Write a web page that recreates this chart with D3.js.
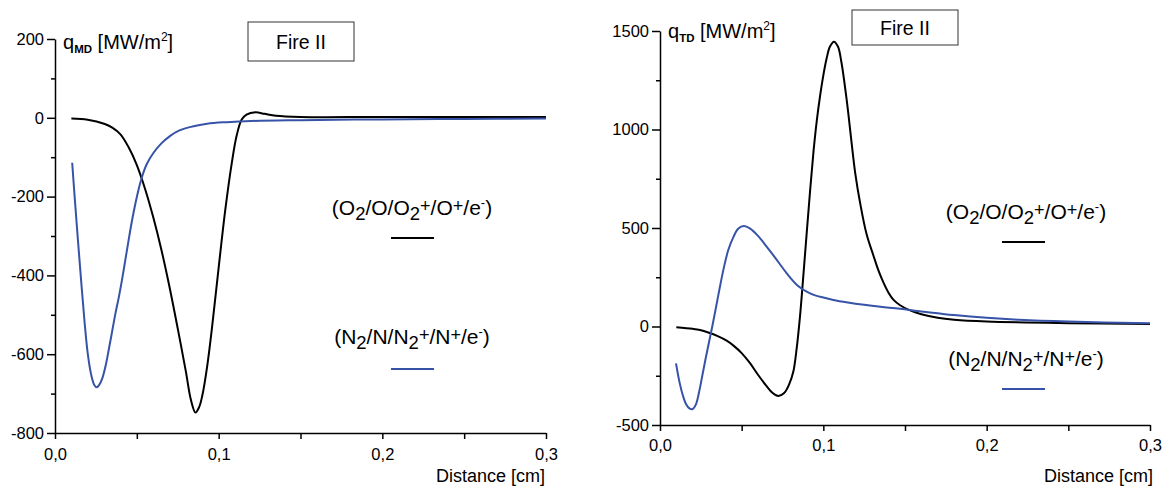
<!DOCTYPE html>
<html>
<head>
<meta charset="utf-8">
<script src="https://cdn.jsdelivr.net/npm/d3@7"></script>
<style>
  body { margin: 0; background: #fff; }
  svg { display: block; font-family: "Liberation Sans", Arial, sans-serif; }
</style>
</head>
<body>
<svg id="chart" width="1166" height="487"></svg>
<script>
// ---- data: [distance cm, heat flux MW/m2] ----
const distTicks = [0, 0.1, 0.2, 0.3];
const distMinor = [0.05, 0.15, 0.25];

const mdTicks = [-800, -600, -400, -200, 0, 200];
const mdMinor = [-700, -500, -300, -100, 100];
const tdTicks = [-500, 0, 500, 1000, 1500];
const tdMinor = [-250, 250, 750, 1250];

// q_MD, O2/O/O2+/O+/e- (black)
const mdOxygen = [
  [0.010, -2], [0.020, -5], [0.030, -15], [0.035, -25], [0.040, -42], [0.045, -75],
  [0.050, -120], [0.055, -180], [0.060, -252], [0.065, -335], [0.070, -430],
  [0.075, -535], [0.080, -645], [0.083, -715], [0.0858, -748], [0.088, -735],
  [0.090, -705], [0.093, -630], [0.096, -530], [0.100, -380], [0.104, -235],
  [0.108, -115], [0.111, -45], [0.114, -5], [0.117, 8], [0.1225, 14], [0.128, 10],
  [0.135, 5], [0.150, 2], [0.200, 2], [0.300, 2]
];
// q_MD, N2/N/N2+/N+/e- (blue)
const mdNitrogen = [
  [0.0105, -114], [0.012, -200], [0.014, -310], [0.016, -415], [0.018, -515],
  [0.020, -598], [0.022, -650], [0.024, -678], [0.0255, -684], [0.027, -678],
  [0.029, -660], [0.031, -628], [0.033, -585], [0.035, -540], [0.037, -495],
  [0.039, -455], [0.041, -410], [0.043, -360], [0.045, -310], [0.047, -262],
  [0.049, -220], [0.051, -183], [0.053, -152], [0.056, -118], [0.060, -90],
  [0.065, -65], [0.070, -47], [0.076, -32], [0.084, -22], [0.093, -15],
  [0.105, -11], [0.120, -8], [0.150, -6], [0.200, -4], [0.250, -3], [0.300, -2]
];
// q_TD, O2/O/O2+/O+/e- (black)
const tdOxygen = [
  [0.010, -4], [0.020, -12], [0.0245, -18], [0.030, -32], [0.035, -48], [0.0408, -72],
  [0.045, -97], [0.050, -135], [0.055, -185], [0.060, -245], [0.065, -300],
  [0.069, -338], [0.0725, -353], [0.076, -338], [0.079, -295], [0.0816, -230],
  [0.0837, -110], [0.0857, 50], [0.0875, 230], [0.0898, 473], [0.092, 700],
  [0.094, 890], [0.096, 1045], [0.098, 1170], [0.100, 1275], [0.102, 1360],
  [0.104, 1420], [0.1065, 1446], [0.109, 1420], [0.111, 1345], [0.1143, 1150],
  [0.117, 955], [0.1195, 780], [0.1225, 628], [0.1265, 468], [0.1306, 362],
  [0.1335, 290], [0.1367, 225], [0.140, 170], [0.143, 135], [0.147, 108],
  [0.152, 86], [0.160, 62], [0.170, 44], [0.180, 34], [0.200, 25], [0.250, 17],
  [0.300, 13]
];
// q_TD, N2/N/N2+/N+/e- (blue)
const tdNitrogen = [
  [0.0098, -187], [0.012, -285], [0.014, -350], [0.016, -395], [0.018, -416],
  [0.0198, -420], [0.022, -395], [0.024, -330], [0.026, -245], [0.028, -160],
  [0.030, -80], [0.032, 0], [0.034, 85], [0.0367, 202], [0.039, 295],
  [0.0418, 388], [0.045, 455], [0.048, 497], [0.0514, 510], [0.055, 498],
  [0.060, 460], [0.0653, 405], [0.070, 355], [0.0776, 270], [0.084, 210],
  [0.0898, 177], [0.095, 158], [0.100, 147], [0.1061, 135], [0.115, 122],
  [0.125, 110], [0.135, 100], [0.147, 90], [0.160, 76], [0.170, 67],
  [0.180, 58], [0.200, 44], [0.220, 34], [0.250, 25], [0.300, 16]
];

const oxygenLabel = [["(O", "n"], ["2", "sub"], ["/O/O", "n"], ["2", "sub"], ["+", "sup"],
                     ["/O", "n"], ["+", "sup"], ["/e", "n"], ["-", "supm"], [")", "n"]];
const nitrogenLabel = [["(N", "n"], ["2", "sub"], ["/N/N", "n"], ["2", "sub"], ["+", "sup"],
                       ["/N", "n"], ["+", "sup"], ["/e", "n"], ["-", "supm"], [")", "n"]];

const BLACK = "#000";
const BLUE = "#3653a8";

const svg = d3.select("#chart");

// text made of pieces with sub/superscripts, shifts done with dy
function richText(g, parts, x, y, anchor, size) {
  let t = g.append("text")
    .attr("x", x).attr("y", y)
    .attr("text-anchor", anchor)
    .attr("font-size", size);
  let shift = 0;
  parts.forEach(function(p) {
    let target = 0, fs = size;
    if (p[1] === "sub") { target = 4.5; fs = size * 0.88; }
    if (p[1] === "sup") { target = -3.5; fs = size * 0.86; }
    if (p[1] === "supm") { target = -8; fs = size * 0.62; }
    t.append("tspan")
      .attr("dy", target - shift)
      .attr("font-size", fs)
      .text(p[0]);
    shift = target;
  });
  return t;
}

function drawPanel(cfg) {
  let g = svg.append("g");
  let x = d3.scaleLinear().domain([0, 0.3]).range(cfg.xRange);
  let y = d3.scaleLinear().domain(cfg.yDomain).range(cfg.yRange);
  let x0 = cfg.xRange[0], yBase = cfg.yRange[0];

  // minor ticks
  g.append("g").attr("transform", `translate(${x0},0)`)
    .call(d3.axisLeft(y).tickValues(cfg.yMinor).tickSize(4).tickFormat(""))
    .call(a => a.select(".domain").remove());
  g.append("g").attr("transform", `translate(0,${yBase})`)
    .call(d3.axisBottom(x).tickValues(distMinor).tickSize(6).tickFormat(""))
    .call(a => a.select(".domain").remove());

  // major axes
  let ya = g.append("g").attr("transform", `translate(${x0},0)`)
    .call(d3.axisLeft(y).tickValues(cfg.yTicks).tickSize(8).tickSizeOuter(0)
      .tickPadding(3).tickFormat(d => String(d)));
  let xa = g.append("g").attr("transform", `translate(0,${yBase})`)
    .call(d3.axisBottom(x).tickValues(distTicks).tickSize(6).tickSizeOuter(0)
      .tickPadding(cfg.xPad).tickFormat(d => d.toFixed(1).replace(".", ",")));

  g.selectAll(".domain, .tick line").attr("stroke", "#000").attr("stroke-width", 1.5);
  [ya, xa].forEach(a => a.attr("font-family", null).attr("font-size", 16.5)
    .selectAll("text").attr("fill", "#000"));

  // curves
  let line = d3.line().x(d => x(d[0])).y(d => y(d[1])).curve(d3.curveCatmullRom.alpha(0.5));
  g.append("path").datum(cfg.oxygen).attr("d", line)
    .attr("fill", "none").attr("stroke", BLACK).attr("stroke-width", 2);
  g.append("path").datum(cfg.nitrogen).attr("d", line)
    .attr("fill", "none").attr("stroke", BLUE).attr("stroke-width", 2);

  // axis titles
  let q = g.append("text").attr("x", x0 + 8).attr("y", cfg.titleY).attr("font-size", 20);
  q.append("tspan").text("q");
  q.append("tspan").attr("dy", 4).attr("font-size", 11.5).attr("font-weight", "bold").text(cfg.sub);
  q.append("tspan").attr("dy", -4).text(" [MW/m");
  q.append("tspan").attr("dy", -8).attr("font-size", 12).text("2");
  q.append("tspan").attr("dy", 8).text("]");

  g.append("text").attr("x", cfg.xRange[1] + cfg.distDx).attr("y", 482)
    .attr("text-anchor", "end").attr("font-size", 18).text("Distance [cm]");

  // Fire II box
  let b = cfg.box;
  g.append("rect").attr("x", b[0]).attr("y", b[1]).attr("width", b[2]).attr("height", b[3])
    .attr("fill", "#fff").attr("stroke", "#333").attr("stroke-width", 1);
  g.append("text").attr("x", b[0] + b[2] / 2).attr("y", b[1] + b[3] / 2 + 7)
    .attr("text-anchor", "middle").attr("font-size", 19.5).text("Fire II");

  // legend
  let L = cfg.legend;
  richText(g, oxygenLabel, L.textX, L.oy, L.anchor, 21);
  g.append("line").attr("x1", L.lx[0]).attr("x2", L.lx[1]).attr("y1", L.oLine).attr("y2", L.oLine)
    .attr("stroke", BLACK).attr("stroke-width", 2);
  richText(g, nitrogenLabel, L.textX, L.ny, L.anchor, 21);
  g.append("line").attr("x1", L.lx[0]).attr("x2", L.lx[1]).attr("y1", L.nLine).attr("y2", L.nLine)
    .attr("stroke", BLUE).attr("stroke-width", 2);
}

drawPanel({
  xRange: [55, 546], yDomain: [-800, 200], yRange: [433, 39],
  yTicks: mdTicks, yMinor: mdMinor, xPad: 9,
  oxygen: mdOxygen, nitrogen: mdNitrogen,
  sub: "MD", titleY: 49, distDx: -1,
  box: [248, 22, 106, 39],
  legend: { textX: 412, anchor: "middle", oy: 215, ny: 344, lx: [391, 434], oLine: 238, nLine: 369 }
});

drawPanel({
  xRange: [660, 1150], yDomain: [-500, 1500], yRange: [425, 31],
  yTicks: tdTicks, yMinor: tdMinor, xPad: 8,
  oxygen: tdOxygen, nitrogen: tdNitrogen,
  sub: "TD", titleY: 38, distDx: 3,
  box: [852, 10, 106, 35],
  legend: { textX: 1026, anchor: "middle", oy: 219, ny: 366, lx: [1002, 1045], oLine: 242, nLine: 389 }
});
</script>
</body>
</html>
